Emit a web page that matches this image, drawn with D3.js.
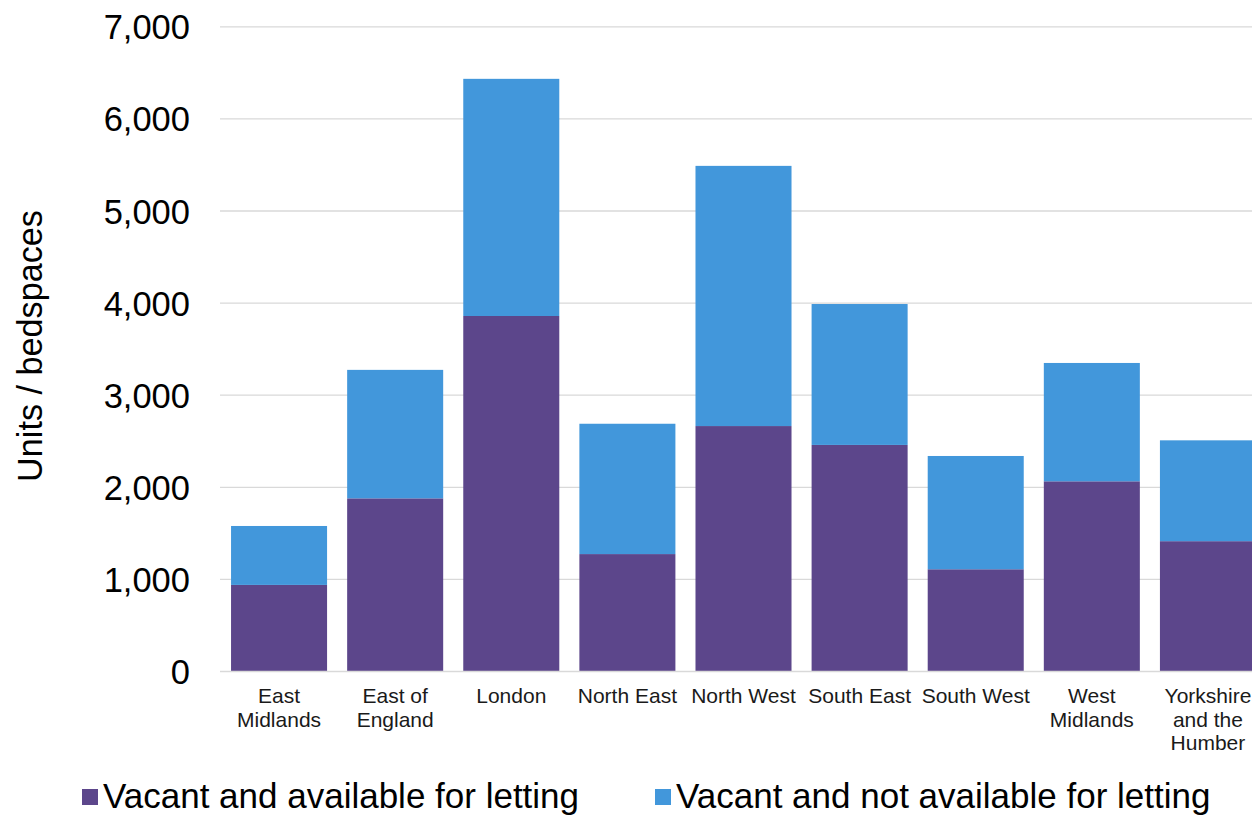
<!DOCTYPE html>
<html lang="en">
<head>
    <meta charset="UTF-8">
    <title>Vacant units by region</title>
    <script src="https://cdn.jsdelivr.net/npm/d3@7"></script>
    <style>
        body{ margin:0; background:#fff; }
        svg{ display:block; font-family:"Liberation Sans", Arial, sans-serif; }
    </style>
</head>
<body>
    <svg id="container" width="1252" height="816">
        <g id="grid"></g>
        <g id="body"></g>
        <g id="xaxis"></g>
        <g id="yaxis"></g>
        <g id="legend"></g>
    </svg>
<script>
    // values
    let regions=["East Midlands","East of England","London","North East","North West","South East","South West","West Midlands","Yorkshire and the Humber"]
    let regionLabels=[["East","Midlands"],["East of","England"],["London"],["North East"],["North West"],["South East"],["South West"],["West","Midlands"],["Yorkshire","and the","Humber"]]
    let available=[940, 1880, 3860, 1275, 2665, 2460, 1110, 2065, 1415]
    let notAvailable=[640, 1395, 2575, 1415, 2825, 1530, 1230, 1285, 1095]
    let seriesNames=["Vacant and available for letting","Vacant and not available for letting"]
    let colors=["#5c468b","#4297db"]
    let yTicks=[0,1000,2000,3000,4000,5000,6000,7000]

    let data=regions.map((r,i)=>({region:r,available:available[i],notAvailable:notAvailable[i]}))
    let stack=d3.stack().keys(["available","notAvailable"])(data)

    let y=d3.scaleLinear()
        .domain([0,7000])
        .range([671.5,26.8])

    let x=d3.scaleBand()
        .domain(regions)
        .range([221,1266])
        .paddingInner(.173)
        .paddingOuter(.0865)

    // gridlines
    d3.select("#grid").selectAll("line").data(yTicks.filter(d=>d>0))
        .enter().append("line")
        .attr("x1",220).attr("x2",1252)
        .attr("y1",d=>y(d)).attr("y2",d=>y(d))
        .attr("stroke","#d9d9d9")
        .attr("stroke-width",1.3)

    let body=d3.select("#body")
    body.selectAll("g").data(stack)
        .enter().append("g")
        .attr("fill",(d,i)=>colors[i])
        .selectAll("rect").data(d=>d)
        .enter().append("rect")
        .attr("x",d=>x(d.data.region))
        .attr("width",x.bandwidth())
        .attr("y",d=>y(d[1]))
        .attr("height",d=>y(d[0])-y(d[1]))

    // baseline
    d3.select("#xaxis").append("line")
        .attr("x1",220).attr("x2",1252)
        .attr("y1",y(0)).attr("y2",y(0))
        .attr("stroke","#d9d9d9")
        .attr("stroke-width",1.3)

    let xlab=d3.select("#xaxis").selectAll("text").data(regions)
        .enter().append("text")
        .attr("x",d=>x(d)+x.bandwidth()/2)
        .attr("y",703)
        .attr("text-anchor","middle")
        .attr("font-size",21)
        .attr("fill","#1a1a1a")
    xlab.selectAll("tspan").data((d,i)=>regionLabels[i])
        .enter().append("tspan")
        .attr("x",function(){return this.parentNode.getAttribute("x")})
        .attr("dy",(d,i)=>i==0?0:23.5)
        .text(d=>d)

    let yaxis=d3.axisLeft(y).tickValues(yTicks).tickSize(0).tickPadding(0).tickFormat(d3.format(","))
    d3.select("#yaxis")
        .attr("transform","translate(190,0)")
        .call(yaxis)
    d3.select("#yaxis").select(".domain").remove()
    d3.select("#yaxis").selectAll("text")
        .attr("font-size",34.5)
        .attr("font-family","Liberation Sans, Arial, sans-serif")
        .attr("fill","#000")
        .attr("dy","0.35em")

    d3.select("#yaxis").append("text")
        .text("Units / bedspaces")
        .attr("fill","#000")
        .attr("font-size",34.2)
        .attr("text-anchor","middle")
        .attr("transform","translate(-148,346) rotate(-90)")

    // legend
    let legendX=[82,655]
    let legend=d3.select("#legend").selectAll("g").data(seriesNames)
        .enter().append("g")
        .attr("transform",(d,i)=>"translate("+legendX[i]+",0)")
    legend.append("rect")
        .attr("x",0).attr("y",789)
        .attr("width",16).attr("height",16)
        .attr("fill",(d,i)=>colors[i])
    legend.append("text")
        .attr("x",21).attr("y",808)
        .attr("font-size",35)
        .attr("fill","#000")
        .text(d=>d)
</script>
</body>
</html>
